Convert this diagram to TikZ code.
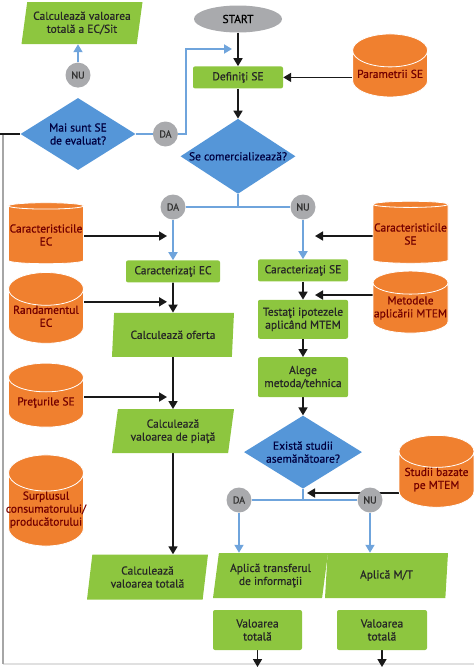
\documentclass[tikz,border=0pt]{standalone}
\usepackage{fontspec}
\setmainfont{PT Sans}[FakeBold=0.6]
\usetikzlibrary{positioning,shapes.geometric,arrows.meta,backgrounds}

\definecolor{verde}{HTML}{8DC63F}
\definecolor{albastru}{HTML}{5596D8}
\definecolor{linieal}{HTML}{6FA4DC}
\definecolor{portocaliu}{HTML}{F0802F}
\definecolor{gri}{HTML}{A9AAAD}

\tikzset{
  scris/.style={font=\fontsize{11.5}{13}\selectfont},
  proces/.style={rectangle, rounded corners=2pt, fill=verde, text=black!85, align=center, inner sep=0pt, scris},
  calcul/.style={trapezium, trapezium left angle=76, trapezium right angle=104, trapezium stretches body, fill=verde, text=black!85, align=center, inner sep=0pt, minimum height=44pt, scris},
  decizie/.style={diamond, aspect=1.6, fill=albastru, text=blue!25!black, align=center, inner sep=0pt, scris},
  baza/.style={cylinder, shape border rotate=90, aspect=0.5, cylinder uses custom fill, cylinder body fill=portocaliu, cylinder end fill=portocaliu, draw=white, line width=0.8pt, text=red!45!black, align=center, inner sep=0pt, minimum width=75pt, scris, execute at begin node={\mbox{}\\[-1pt]}},
  eticheta/.style={circle, fill=gri, minimum size=25pt, inner sep=0pt, text=black!80, font=\fontsize{10}{11}\selectfont},
  flux/.style={-{Triangle[length=8pt,width=9pt]}, line width=1.7pt, black!90},
  ramura/.style={line width=1.8pt, linieal},
  ramuraf/.style={ramura, -{Triangle[length=8pt,width=9pt]}},
}

\begin{document}
\begin{tikzpicture}[x=1pt,y=1pt]
\useasboundingbox (0,0) rectangle (474,-667);

% coloana de sus
\node[ellipse, fill=gri, minimum width=88pt, minimum height=27pt, inner sep=0pt, scris] (start) at (238,-19) {START};
\node[proces, minimum width=90pt, minimum height=22pt, below=33.5pt of start] (def) {Definiţi SE};
\node[baza, minimum height=63pt, right=69pt of def, yshift=3.5pt] (param) {Parametrii SE};
\node[decizie, minimum width=115pt, minimum height=75pt, below=30pt of def] (comerc) {\makebox[0pt]{Se comercializează?}};
\node[decizie, minimum width=115pt, minimum height=72pt] (evaluat) at (78,-134) {Mai sunt SE\\de evaluat?};
\node[eticheta, above=10pt of evaluat] (nu1) {NU};
\node[eticheta, right=17pt of evaluat] (da1) {DA};
\node[calcul, minimum width=121pt, minimum height=42pt] (totsit) at (82,-23) {Calculează valoarea\\totală a EC/Sit};

% ramura DA
\node[eticheta] (da2) at (173,-207) {DA};
\node[eticheta] (nu2) at (303,-207) {NU};
\node[proces, minimum width=94pt, minimum height=22pt, below=40.5pt of da2] (carEC) {Caracterizaţi EC};
\node[calcul, minimum width=122pt, below=30pt of carEC] (oferta) {Calculează oferta};
\node[calcul, minimum width=122pt, below=52pt of oferta] (piata) {Calculează\\valoarea de piaţă};
\node[calcul, minimum width=121pt, minimum height=45pt] (totala) at (147.5,-577) {Calculează\\valoarea totală};
\node[baza, minimum height=61pt] (bcEC) at (46,-235) {\makebox[0pt]{Caracteristicile}\\EC};
\node[baza, minimum height=64pt, below=8pt of bcEC] (brEC) {Randamentul\\EC};
\node[baza, minimum height=64pt, below=19pt of brEC] (bpSE) {Preţurile SE};
\node[baza, minimum height=80pt, below=27pt of bpSE] (bsurp) {Surplusul\\\makebox[0pt]{consumatorului/}\\producătorului};

% ramura NU
\node[proces, minimum width=90pt, minimum height=22pt, below=39.5pt of nu2] (carSE) {Caracterizaţi SE};
\node[proces, minimum width=90pt, minimum height=39pt, below=18pt of carSE] (testati) {Testaţi ipotezele\\aplicând MTEM};
\node[proces, minimum width=90pt, minimum height=40pt, below=18pt of testati] (alege) {Alege\\metoda/tehnica};
\node[decizie, minimum width=118pt, minimum height=73pt, below=18pt of alege] (studii) {Există studii\\asemănătoare?};
\node[eticheta] (da3) at (239,-500) {DA};
\node[eticheta] (nu3) at (370,-500) {NU};
\node[baza, minimum height=62pt] (bcSE) at (410.5,-234) {\makebox[0pt]{Caracteristicile}\\SE};
\node[baza, minimum height=62pt, below=7pt of bcSE] (bmet) {Metodele\\\makebox[0pt]{aplicării MTEM}};
\node[baza, minimum height=65pt] (bstudii) at (436.5,-479.5) {Studii bazate\\pe MTEM};
\node[calcul, minimum width=115pt, minimum height=45pt] (transfer) at (270.5,-575.5) {Aplică transferul\\de informaţii};
\node[calcul, minimum width=123pt, minimum height=45pt] (aplmt) at (386.5,-575.5) {Aplică M/T};
\node[proces, minimum width=89pt, minimum height=40pt] (vt1) at (257.5,-630) {Valoarea\\totală};
\node[proces, minimum width=90pt, minimum height=40pt] (vt2) at (382,-630) {Valoarea\\totală};

\coordinate (intoarcere) at (232,-49);
\coordinate (iesire1) at (257.5,-667);
\coordinate (iesire2) at (382,-667);
\coordinate (r0) at (0,-134);
\coordinate (r1) at (3,-134);
\coordinate (r2) at (3,-664);
\coordinate (r3) at (474,-664);

\begin{scope}[on background layer]
\draw[line width=1.2pt, black!12] (r2) -- (r3);
\draw[line width=1.8pt, black!35] (r1) -- (r2);
\draw[line width=1.7pt, black!90] (r0) -- (evaluat.west);
\draw[flux] (start) -- (def);
\draw[flux] (def) -- (comerc);
\draw[flux] (param.west |- def) -- (def.east);
\draw[ramura] (evaluat.east) -- (da1);
\draw[ramuraf] (da1) -- ++(20.5,0) |- (intoarcere);
\draw[ramuraf] (nu1) -- (nu1 |- totsit.south);
\draw[ramura] (comerc.south) -- (comerc.south |- da2);
\draw[ramura] (da2) -- (nu2);
\draw[ramuraf] (da2) -- (carEC);
\draw[ramuraf] (nu2) -- (carSE);
\draw[flux, shorten >=6pt] ([yshift=-1pt]bcEC.east) -- ([yshift=-1pt]bcEC.east -| da2);
\draw[flux, shorten >=6pt] ([yshift=14.5pt]brEC.east) -- ([yshift=14.5pt]brEC.east -| da2);
\draw[flux, shorten >=6pt] ([yshift=5.5pt]bpSE.east) -- ([yshift=5.5pt]bpSE.east -| da2);
\draw[flux] (carEC) -- (oferta);
\draw[flux] (oferta) -- (piata);
\draw[flux] (piata.south) -- (piata.south |- totala.north);
\draw[flux, shorten >=12pt] ([yshift=-2pt]bcSE.west) -- ([yshift=-2pt]bcSE.west -| nu2);
\draw[flux, shorten >=12pt] ([yshift=13pt]bmet.west) -- ([yshift=13pt]bmet.west -| nu2);
\draw[flux] (carSE) -- (testati);
\draw[flux] (testati) -- (alege);
\draw[flux] (alege) -- (studii);
\draw[ramura] (studii.south) -- (studii.south |- da3);
\draw[ramura] (da3) -- (nu3);
\draw[flux, shorten >=4pt] ([yshift=-13.5pt]bstudii.west) -- ([yshift=-13.5pt]bstudii.west -| studii.south);
\draw[ramuraf] (da3) -- (da3 |- transfer.north);
\draw[ramuraf] (nu3) -- (nu3 |- aplmt.north);
\draw[flux] (vt1) -- (iesire1);
\draw[flux] (vt2) -- (iesire2);
\end{scope}
\end{tikzpicture}
\end{document}
